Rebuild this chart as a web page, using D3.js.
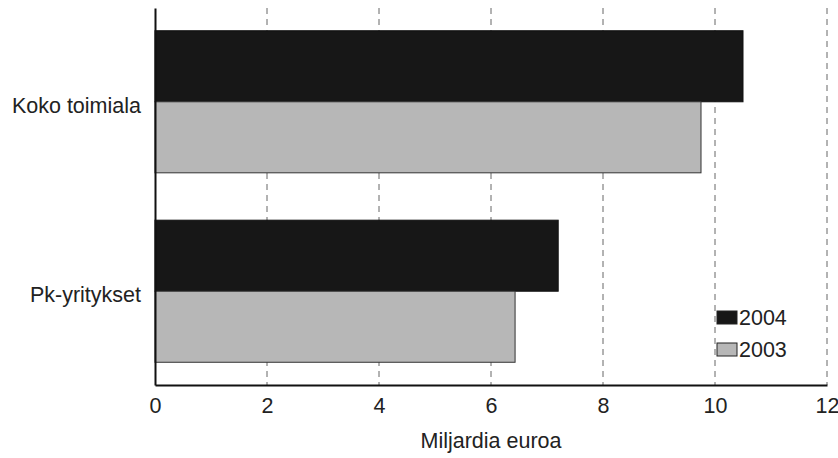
<!DOCTYPE html>
<html>
<head>
<meta charset="utf-8">
<script src="https://cdn.jsdelivr.net/npm/d3@7"></script>
<style>
  body { margin: 0; background: #fff; }
  svg { display: block; }
  text { font-family: "Liberation Sans", Arial, sans-serif; fill: #222; }
</style>
</head>
<body>
<svg id="chart" width="838" height="458"></svg>
<script>
const categories = ["Koko toimiala", "Pk-yritykset"];
const seriesNames = ["2004", "2003"];
const values2004 = [10.5, 7.2];
const values2003 = [9.75, 6.43];
const xTicks = [0, 2, 4, 6, 8, 10, 12];
const axisTitle = "Miljardia euroa";
const colors = { "2004": "#171717", "2003": "#b7b7b7" };

const FS = 21.5;
const FF = "'Liberation Sans', Arial, sans-serif";
const svg = d3.select("#chart");
const margin = { left: 155, right: 12, top: 8, bottom: 73 };
const W = 838, H = 458;
const innerH = H - margin.top - margin.bottom;

const x = d3.scaleLinear().domain([0, 12]).range([margin.left, margin.left + 672]);
const y = d3.scaleBand().domain(categories).range([margin.top, margin.top + innerH]).paddingInner(0.25).paddingOuter(0.12);
const ySub = d3.scaleBand().domain(seriesNames).range([0, y.bandwidth()]);

// gridlines
svg.append("g").selectAll("line").data(xTicks.filter(d => d > 0)).join("line")
  .attr("x1", d => x(d)).attr("x2", d => x(d))
  .attr("y1", margin.top).attr("y2", margin.top + innerH)
  .attr("stroke", "#666").attr("stroke-width", 1).attr("stroke-dasharray", "6,5");

// bars
const rows = categories.map((c, i) => ({ cat: c, vals: [["2004", values2004[i]], ["2003", values2003[i]]] }));
const g = svg.append("g");
rows.forEach(r => {
  r.vals.forEach(([s, v]) => {
    g.append("rect")
      .attr("x", x(0))
      .attr("y", y(r.cat) + ySub(s))
      .attr("width", x(v) - x(0))
      .attr("height", ySub.bandwidth())
      .attr("fill", colors[s])
      .attr("stroke", s === "2003" ? "#333" : "#111")
      .attr("stroke-width", 1);
  });
});

// x axis
const xAxis = d3.axisBottom(x).tickValues(xTicks).tickSize(0).tickPadding(13).tickFormat(d3.format("d"));
const xg = svg.append("g").attr("transform", `translate(0,${margin.top + innerH})`).call(xAxis);
xg.select(".domain").attr("stroke", "#111").attr("stroke-width", 2);
xg.selectAll("text").style("font-size", FS + "px").style("font-family", FF).attr("fill", "#222");

// y axis
const yAxis = d3.axisLeft(y).tickSize(0).tickPadding(14);
const yg = svg.append("g").attr("transform", `translate(${x(0)},0)`).call(yAxis);
yg.select(".domain").attr("stroke", "#111").attr("stroke-width", 2);
yg.selectAll("text").style("font-size", FS + "px").style("font-family", FF).attr("fill", "#222")
  .attr("dy", "0.5em");

// axis title
svg.append("text").attr("x", x(6)).attr("y", 448).attr("text-anchor", "middle")
  .style("font-size", FS + "px").text(axisTitle);

// legend
const legend = svg.append("g").attr("transform", "translate(717,311)");
seriesNames.forEach((s, i) => {
  const lg = legend.append("g").attr("transform", `translate(0,${i * 32})`);
  lg.append("rect").attr("width", 20).attr("height", 13).attr("fill", colors[s])
    .attr("stroke", "#222").attr("stroke-width", 1);
  lg.append("text").attr("x", 22).attr("y", 14).style("font-size", FS + "px").text(s);
});
</script>
</body>
</html>
